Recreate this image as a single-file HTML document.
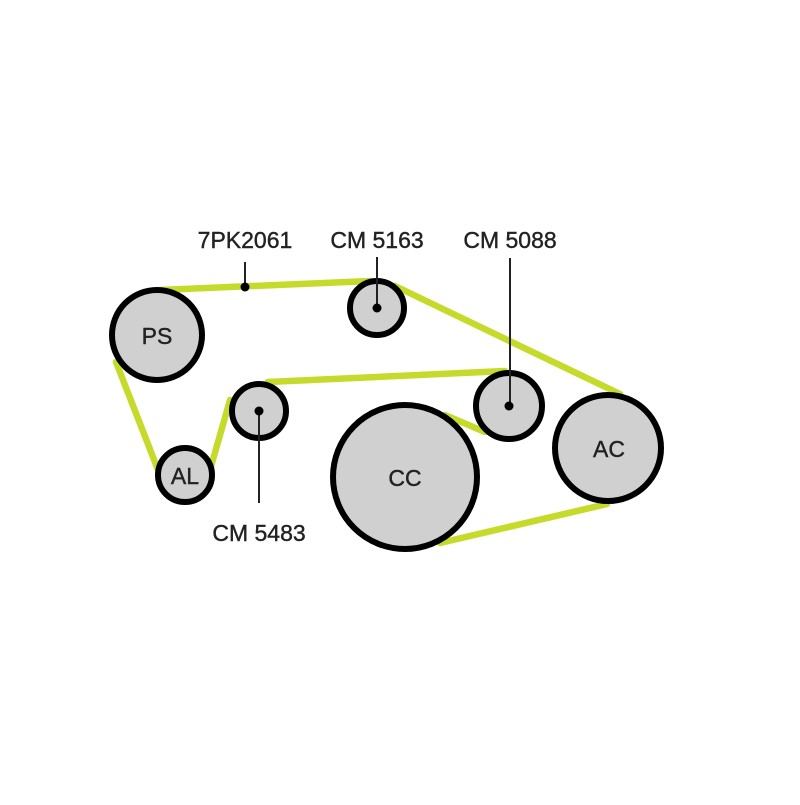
<!DOCTYPE html>
<html><head><meta charset="utf-8"><style>html,body{margin:0;background:#fff}</style></head>
<body>
<svg width="800" height="800" xmlns="http://www.w3.org/2000/svg" font-family="Liberation Sans, sans-serif">
<rect width="800" height="800" fill="#fff"/>
<g stroke="#c6da2c" stroke-width="6.5" stroke-linecap="round" fill="none">
<line x1="160" y1="290" x2="370" y2="281"/>
<line x1="395" y1="286" x2="620" y2="394"/>
<line x1="268" y1="382" x2="505" y2="371"/>
<line x1="445" y1="415" x2="485" y2="432"/>
<line x1="440" y1="543" x2="607" y2="504"/>
<line x1="116" y1="362" x2="160" y2="475"/>
<line x1="210" y1="470" x2="230" y2="400"/>
</g>
<g fill="#d0d0d0" stroke="#000" stroke-width="6">
<circle cx="157" cy="335" r="45"/>
<circle cx="377" cy="308" r="27"/>
<circle cx="259" cy="411" r="27"/>
<circle cx="185" cy="475" r="27"/>
<circle cx="405" cy="477" r="72"/>
<circle cx="509" cy="406" r="33"/>
<circle cx="608" cy="448" r="53"/>
</g>
<g stroke="#222" stroke-width="2">
<line x1="245" y1="262" x2="245" y2="287"/>
<line x1="377" y1="257" x2="377" y2="308"/>
<line x1="510" y1="258" x2="510" y2="406"/>
<line x1="259" y1="411" x2="259" y2="503"/>
</g>
<g fill="#000">
<circle cx="245" cy="287" r="4.5"/>
<circle cx="377" cy="308" r="4.5"/>
<circle cx="509" cy="406" r="4.5"/>
<circle cx="259" cy="411" r="4.5"/>
</g>
<g fill="#222" font-size="23" text-anchor="middle" stroke="#222" stroke-width="0.4">
<text x="245" y="248">7PK2061</text>
<text x="377" y="248">CM 5163</text>
<text x="510" y="248">CM 5088</text>
<text x="259" y="541">CM 5483</text>
<text x="157" y="344">PS</text>
<text x="185" y="484">AL</text>
<text x="405" y="486">CC</text>
<text x="609" y="457">AC</text>
</g>
</svg>
</body></html>
